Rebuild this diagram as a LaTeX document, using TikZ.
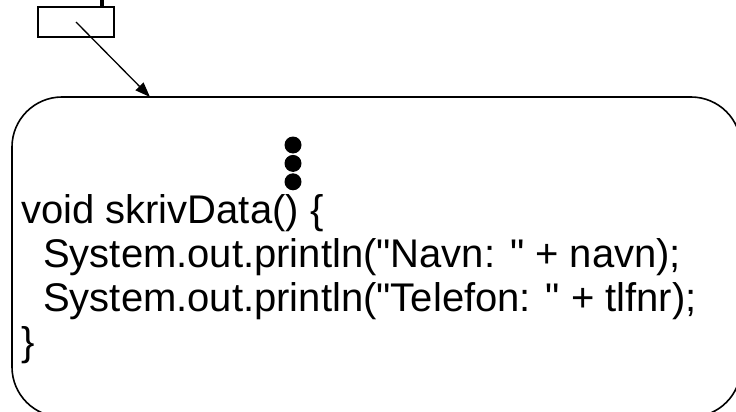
\documentclass[tikz,border=0pt]{standalone}
\usepackage{fontspec}
\newfontfamily\codefont{Liberation Sans}
\usetikzlibrary{arrows.meta,positioning}

\begin{document}
\begin{tikzpicture}[x=1pt, y=-1pt,
  refbox/.style={rectangle, draw, line width=1.6pt, minimum width=76pt, minimum height=30pt},
  objbox/.style={draw, line width=1.6pt, rounded corners=50pt},
  ptr/.style={-{Triangle[length=15pt,width=11pt]}, line width=1.3pt},
  dot/.style={circle, fill, inner sep=0pt, minimum size=17pt},
  code/.style={align=left, inner sep=0pt, font=\codefont\fontsize{40}{44}\selectfont}
]
  \useasboundingbox (0,0) rectangle (736,412);
  % reference variable
  \node[refbox] (var) at (76,22) {};
  \draw[line width=4pt] (102,-6) -- (var.north -| 102,0);
  % object
  \draw[objbox] (12,97) rectangle (741,417);
  \coordinate (top) at (150,97);
  \draw[ptr] (var.center) -- (top);
  \node[dot] (d1) at (293,145) {};
  \node[dot, below=1pt of d1] (d2) {};
  \node[dot, below=1pt of d2] (d3) {};
  \node[code, anchor=north west] (body) at (21,194)
    {void skrivData() \{\\
     \hspace*{0.55em}System.out.println("Navn: " + navn);\\
     \hspace*{0.55em}System.out.println("Telefon: " + tlfnr);\\
     \}};
\end{tikzpicture}
\end{document}
